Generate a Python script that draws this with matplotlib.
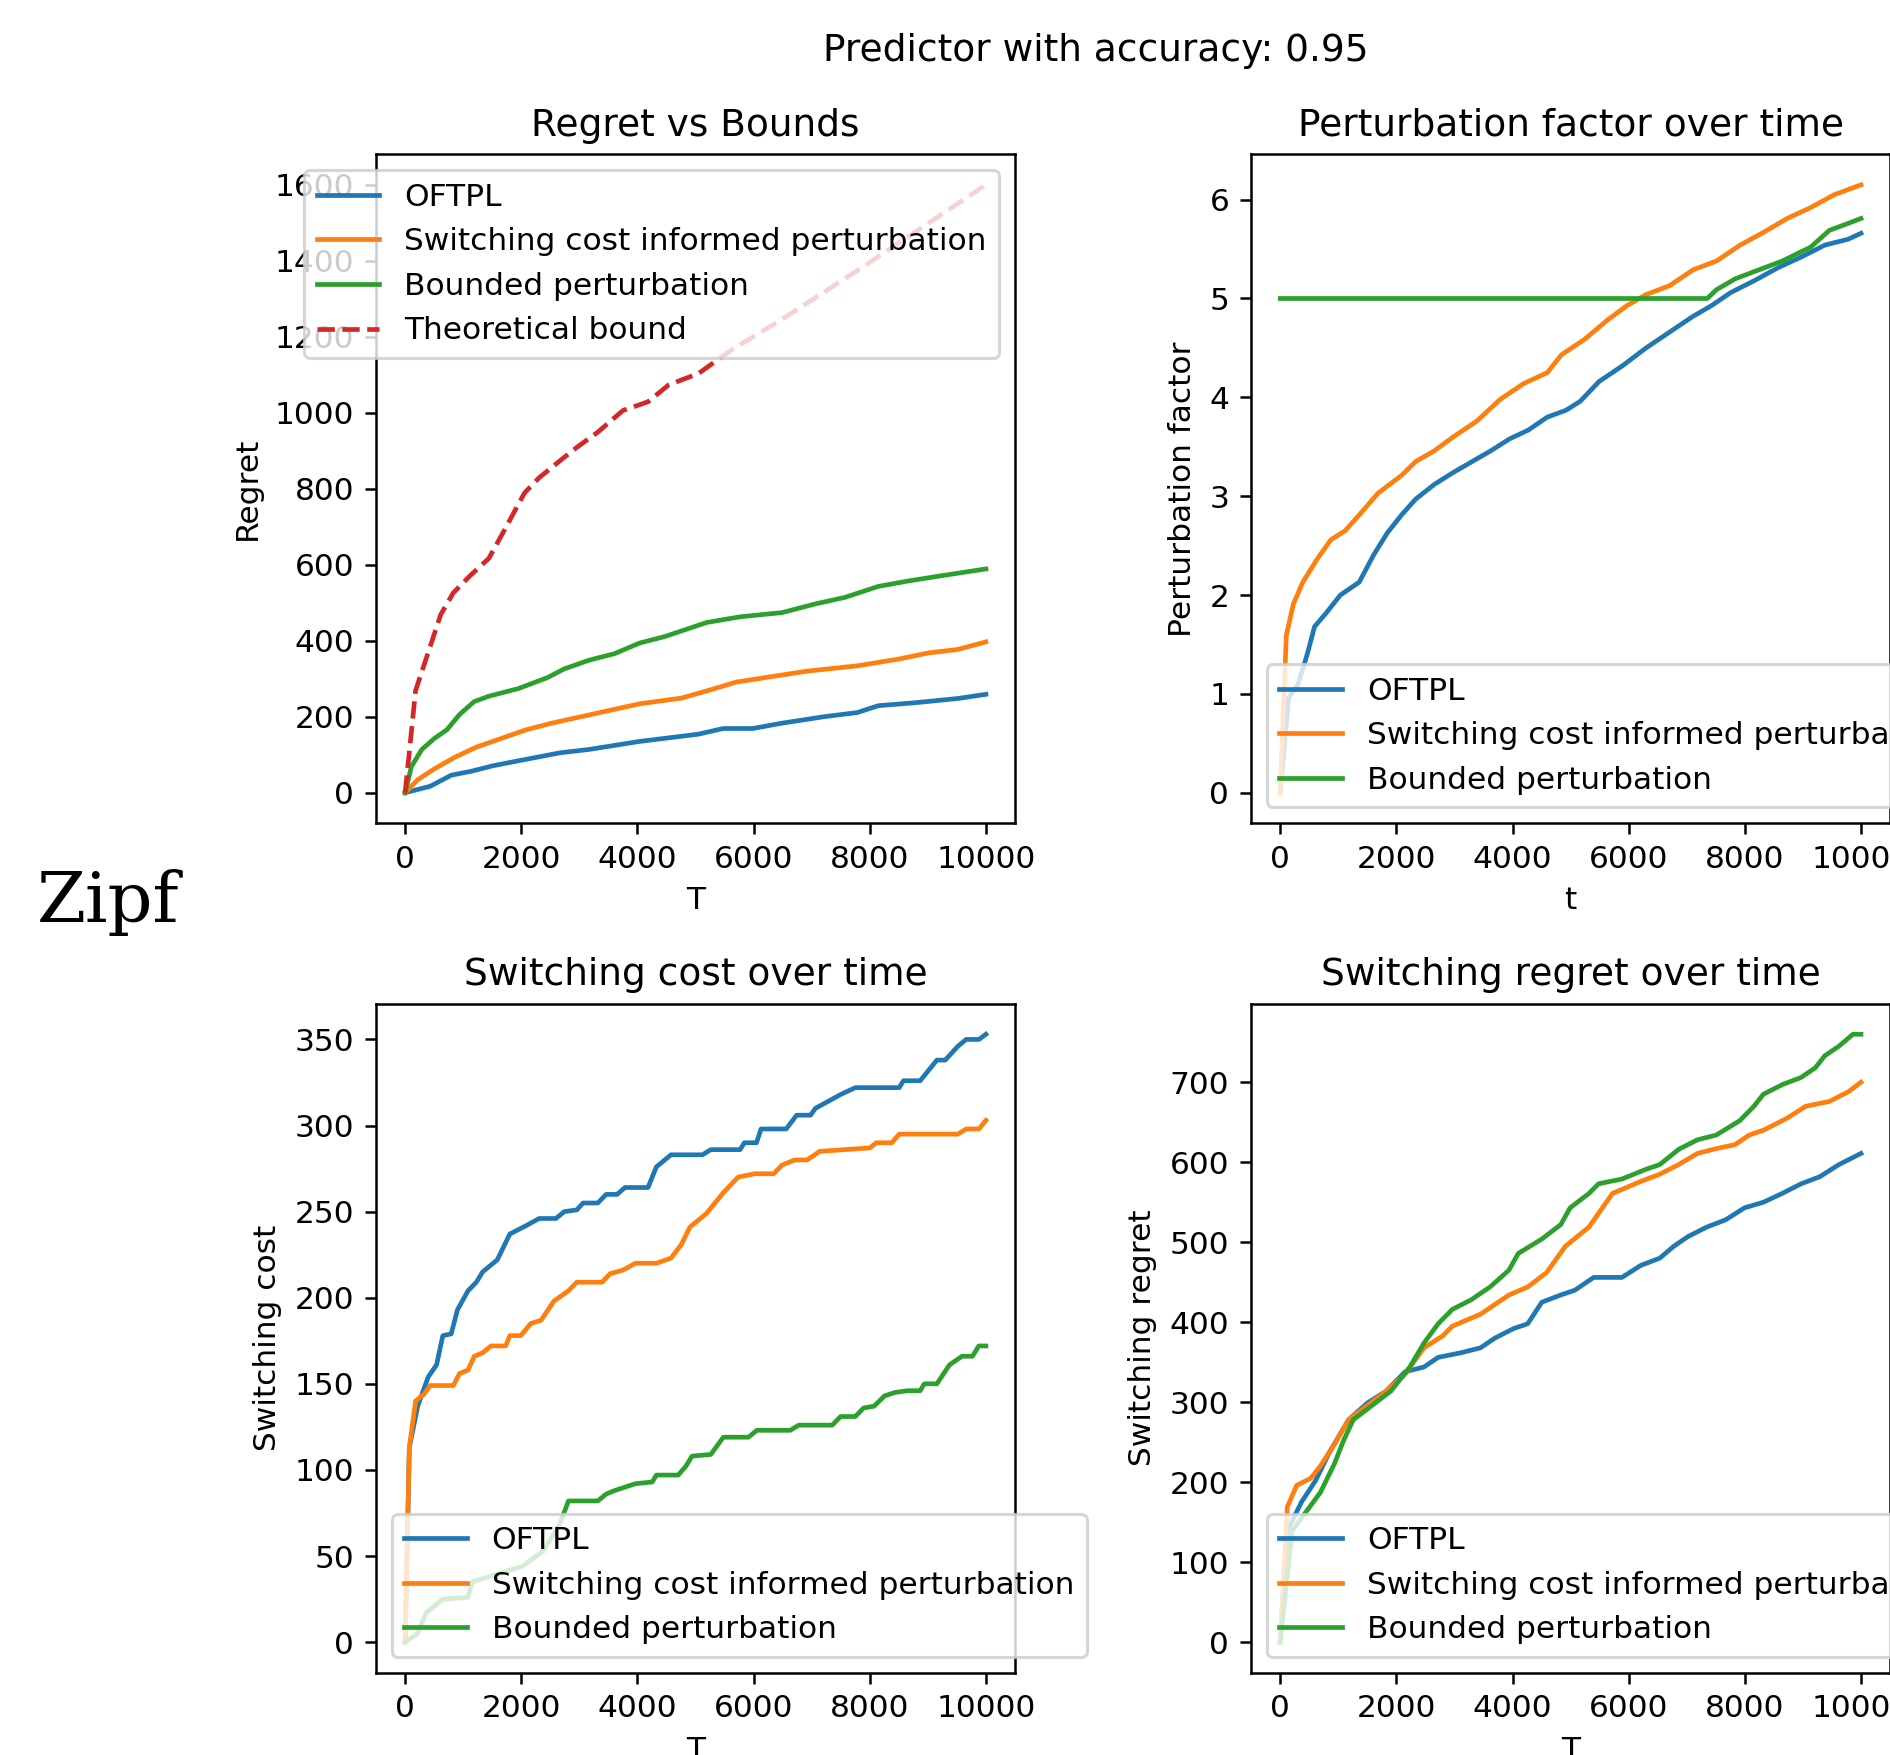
import matplotlib
matplotlib.use("Agg")
import matplotlib.pyplot as plt

# Regret vs Bounds
reg_oftpl_t = [0, 433, 793, 1154, 1514, 2019, 2668, 3172, 4038, 5047, 5479, 5984, 6489, 7210, 7787, 8147, 8796, 9517, 10000]
reg_oftpl = [0, 17, 46, 57, 71, 86, 105, 114, 135, 154, 169, 169, 183, 200, 211, 229, 237, 248, 259]
reg_sc_t = [0, 216, 505, 865, 1226, 1658, 2091, 2523, 3028, 3533, 4038, 4758, 5263, 5696, 6200, 6921, 7787, 8508, 9012, 9517, 10000]
reg_sc = [0, 34, 63, 94, 120, 143, 166, 183, 200, 217, 234, 249, 271, 291, 303, 320, 334, 352, 368, 377, 397]
reg_bp_t = [0, 108, 288, 505, 721, 937, 1190, 1442, 1947, 2451, 2740, 3172, 3605, 4038, 4470, 5191, 5768, 6489, 7065, 7570, 8147, 8652, 9229, 10000]
reg_bp = [0, 69, 114, 143, 166, 206, 240, 254, 274, 303, 326, 349, 366, 394, 411, 448, 463, 474, 497, 514, 543, 557, 571, 589]
bound_t = [0, 180, 613, 829, 1117, 1442, 1730, 2055, 2307, 2668, 2956, 3317, 3749, 4182, 4542, 5047, 5624, 6489, 7931, 10000]
bound = [0, 269, 469, 526, 571, 617, 697, 789, 829, 874, 909, 949, 1006, 1029, 1074, 1103, 1166, 1246, 1389, 1600]

# Perturbation factor over time
pf_oftpl_t = [0, 146, 308, 470, 591, 794, 1036, 1360, 1603, 1846, 2089, 2332, 2656, 2980, 3304, 3628, 3951, 4275,
              4599, 4923, 5166, 5490, 5895, 6300, 6704, 7109, 7433, 7757, 8162, 8567, 8972, 9377, 9781, 10000]
pf_oftpl = [0, 0.96, 1.10, 1.41, 1.68, 1.82, 2.00, 2.13, 2.40, 2.63, 2.81, 2.97, 3.12, 3.24, 3.35, 3.46, 3.58, 3.67,
            3.80, 3.87, 3.96, 4.16, 4.32, 4.50, 4.66, 4.82, 4.93, 5.06, 5.18, 5.31, 5.42, 5.54, 5.60, 5.66]
pf_sc_t = [0, 105, 227, 389, 632, 874, 1117, 1360, 1684, 2089, 2332, 2656, 2980, 3385, 3789, 4194, 4599, 4842,
           5247, 5652, 5976, 6300, 6704, 7109, 7514, 7919, 8324, 8729, 9134, 9538, 10000]
pf_sc = [0, 1.59, 1.91, 2.13, 2.36, 2.56, 2.65, 2.81, 3.03, 3.21, 3.35, 3.46, 3.60, 3.76, 3.98, 4.14, 4.25, 4.43,
         4.59, 4.79, 4.93, 5.04, 5.13, 5.29, 5.38, 5.54, 5.67, 5.81, 5.92, 6.05, 6.15]
pf_bp_t = [0, 7352, 7514, 7838, 8243, 8648, 9134, 9457, 9781, 10000]
pf_bp = [5.0, 5.0, 5.09, 5.2, 5.29, 5.38, 5.52, 5.69, 5.76, 5.81]

# Switching cost over time
sw_oftpl_t = [0, 72, 216, 397, 541, 649, 793, 901, 1082, 1226, 1334, 1586, 1803, 2091, 2307, 2596, 2740, 2956, 3064,
              3317, 3461, 3650, 3785, 4182, 4326, 4578, 5119, 5263, 5768, 5840, 6050, 6128, 6561, 6741, 6980, 7065,
              7282, 7498, 7751, 8508, 8580, 8868, 9156, 9300, 9517, 9661, 9880, 10000]
sw_oftpl = [0, 113, 137, 154, 161, 178, 179, 193, 204, 209, 215, 222, 237, 242, 246, 246, 250, 251, 255,
            255, 260, 260, 264, 264, 276, 283, 283, 286, 286, 290, 290, 298, 298, 306, 306, 310,
            314, 318, 322, 322, 326, 326, 338, 338, 346, 350, 350, 353]
sw_sc_t = [0, 72, 180, 324, 433, 829, 937, 1082, 1190, 1334, 1478, 1730, 1803, 1990, 2163, 2343, 2560, 2812, 2956,
           3389, 3533, 3749, 3965, 4326, 4578, 4758, 4903, 5191, 5479, 5732, 6020, 6345, 6489, 6705, 6921, 7138,
           8003, 8111, 8380, 8508, 9517, 9661, 9880, 10000]
sw_sc = [0, 113, 140, 144, 149, 149, 156, 158, 166, 168, 172, 172, 178, 178, 185, 187, 198, 204, 209,
         209, 214, 216, 220, 220, 223, 231, 241, 249, 261, 270, 272, 272, 277, 280, 280, 285,
         287, 290, 290, 295, 295, 298, 298, 303]
sw_bp_t = [0, 216, 360, 649, 1082, 1154, 1442, 2019, 2379, 2668, 2812, 3317, 3461, 3605, 3965, 4254, 4326, 4700,
           4831, 4939, 5263, 5479, 5912, 6056, 6633, 6777, 7354, 7498, 7751, 7895, 8075, 8255, 8436, 8652, 8868,
           8940, 9156, 9373, 9589, 9769, 9877, 10000]
sw_bp = [0, 5, 17, 25, 26, 35, 38, 44, 53, 69, 82, 82, 86, 88, 92, 93, 97, 97,
         102, 108, 109, 119, 119, 123, 123, 126, 126, 131, 131, 136, 137, 143, 145, 146, 146,
         150, 150, 161, 166, 166, 172, 172]

# Switching regret over time
sr_oftpl_t = [0, 122, 365, 609, 852, 1177, 1502, 1826, 2151, 2476, 2719, 3125, 3450, 3693, 4018, 4261, 4505, 4830,
              5073, 5398, 5885, 6209, 6534, 6778, 7021, 7346, 7670, 7995, 8320, 8644, 8969, 9294, 9619, 10000]
sr_oftpl = [0, 139, 175, 202, 238, 278, 299, 314, 338, 344, 356, 362, 368, 380, 392, 398, 425, 434,
            440, 456, 456, 471, 480, 495, 507, 519, 528, 543, 550, 561, 573, 582, 597, 611]
sr_sc_t = [0, 122, 284, 528, 690, 933, 1177, 1502, 1826, 2151, 2476, 2800, 2963, 3450, 3937, 4261, 4586, 4911,
           5317, 5722, 6209, 6534, 6859, 7183, 7508, 7833, 8076, 8320, 8726, 9050, 9456, 9781, 10000]
sr_sc = [0, 169, 196, 205, 220, 247, 278, 296, 314, 335, 368, 383, 395, 410, 434, 444, 462, 495,
         519, 561, 576, 585, 597, 611, 617, 622, 634, 640, 655, 670, 676, 688, 700]
sr_bp_t = [0, 203, 446, 690, 933, 1096, 1258, 1583, 1907, 2232, 2476, 2719, 2963, 3287, 3612, 3937, 4099, 4505,
           4830, 4992, 5317, 5479, 5885, 6291, 6534, 6859, 7183, 7508, 7914, 8157, 8320, 8644, 8969, 9213, 9375,
           9619, 9862, 10000]
sr_bp = [0, 139, 163, 187, 223, 253, 278, 296, 314, 344, 374, 398, 416, 428, 444, 465, 486, 504,
         522, 543, 561, 573, 579, 591, 597, 616, 628, 634, 652, 670, 685, 697, 706, 718, 733,
         745, 760, 760]

labels = ["OFTPL", "Switching cost informed perturbation", "Bounded perturbation"]

DPI = 225
fig = plt.figure(figsize=(1890 / DPI, 1755 / DPI), dpi=DPI)

ax1 = fig.add_axes([0.199, 0.531, 0.338, 0.381])
ax2 = fig.add_axes([0.662, 0.531, 0.338, 0.381])
ax3 = fig.add_axes([0.199, 0.047, 0.338, 0.381])
ax4 = fig.add_axes([0.662, 0.047, 0.338, 0.381])

ax1.plot(reg_oftpl_t, reg_oftpl, label=labels[0])
ax1.plot(reg_sc_t, reg_sc, label=labels[1])
ax1.plot(reg_bp_t, reg_bp, label=labels[2])
ax1.plot(bound_t, bound, '--', color='C3', label="Theoretical bound")
ax1.set_title("Regret vs Bounds")
ax1.set_xlabel("T")
ax1.set_ylabel("Regret")
ax1.legend(loc='upper right')

ax2.plot(pf_oftpl_t, pf_oftpl, label=labels[0])
ax2.plot(pf_sc_t, pf_sc, label=labels[1])
ax2.plot(pf_bp_t, pf_bp, label=labels[2])
ax2.set_title("Perturbation factor over time")
ax2.set_xlabel("t")
ax2.set_ylabel("Perturbation factor")
ax2.legend(loc='lower left')

ax3.plot(sw_oftpl_t, sw_oftpl, label=labels[0])
ax3.plot(sw_sc_t, sw_sc, label=labels[1])
ax3.plot(sw_bp_t, sw_bp, label=labels[2])
ax3.set_title("Switching cost over time")
ax3.set_xlabel("T")
ax3.set_ylabel("Switching cost")
ax3.legend(loc='lower left')

ax4.plot(sr_oftpl_t, sr_oftpl, label=labels[0])
ax4.plot(sr_sc_t, sr_sc, label=labels[1])
ax4.plot(sr_bp_t, sr_bp, label=labels[2])
ax4.set_title("Switching regret over time")
ax4.set_xlabel("T")
ax4.set_ylabel("Switching regret")
ax4.legend(loc='lower left')

fig.text(0.58, 0.971, "Predictor with accuracy: 0.95", ha='center', va='center', fontsize=12)
fig.text(0.057, 0.486, "Zipf", ha='center', va='center', fontsize=22.5, family='DejaVu Serif')

fig.savefig("out.png", dpi=DPI)
